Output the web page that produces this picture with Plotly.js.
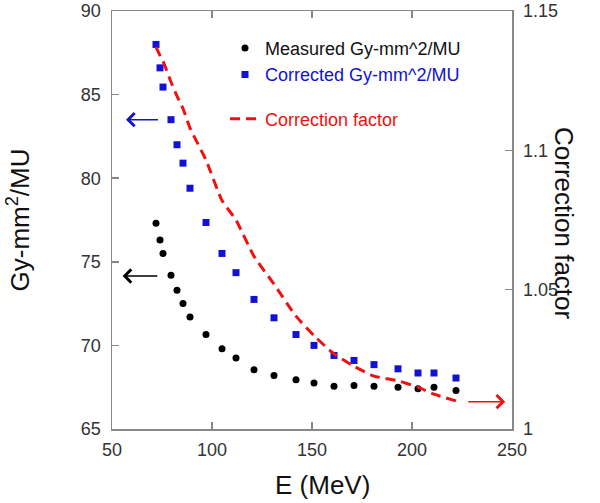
<!DOCTYPE html>
<html>
<head>
<meta charset="utf-8">
<script src="https://cdn.plot.ly/plotly-3.0.1.min.js"></script>
<style>
  html, body { margin: 0; padding: 0; background: #fff; }
  #chart { width: 600px; height: 503px; }
</style>
</head>
<body>
<div id="chart"></div>
<script>
/* ===== Data ===== */
const energy = [72, 74, 75.5, 79.5, 82.5, 85.5, 89, 97, 105, 112, 121, 131, 142, 151, 161, 171, 181, 193, 203, 211, 222];
const measured = [77.3, 76.3, 75.5, 74.2, 73.3, 72.5, 71.7, 70.65, 69.8, 69.25, 68.55, 68.2, 67.95, 67.75, 67.55, 67.6, 67.55, 67.5, 67.4, 67.5, 67.3];
const corrected = [88.0, 86.6, 85.45, 83.5, 82.0, 80.9, 79.4, 77.35, 75.5, 74.35, 72.75, 71.65, 70.65, 70.0, 69.4, 69.1, 68.85, 68.6, 68.35, 68.35, 68.05];
const factor = [1.137, 1.134, 1.132, 1.1245, 1.1195, 1.115, 1.108, 1.0965, 1.082, 1.075, 1.062, 1.052, 1.0405, 1.0335, 1.027, 1.0225, 1.019, 1.0173, 1.015, 1.0125, 1.0101];

const xTicks = [50, 100, 150, 200, 250];
const yTicks = [65, 70, 75, 80, 85, 90];
const y2Ticks = [1, 1.05, 1.1, 1.15];

const FONT = "Arial, 'Liberation Sans', sans-serif";
const BLUE = "#1212d4";
const RED = "#f01010";
const TITLE_FONT = { family: FONT, size: 26, color: "#111" };

/* ===== Traces ===== */
const traces = [
  {
    type: "scatter", mode: "markers",
    x: energy, y: measured,
    name: "Measured Gy-mm^2/MU",
    legendgroup: "a",
    marker: { symbol: "circle", size: 7, color: "#000" }
  },
  {
    type: "scatter", mode: "markers",
    x: energy, y: corrected,
    name: "<span style='color:" + BLUE + "'>Corrected Gy-mm^2/MU</span>",
    legendgroup: "a",
    marker: { symbol: "square", size: 7, color: BLUE }
  },
  {
    type: "scatter", mode: "lines",
    x: energy, y: factor, yaxis: "y2",
    name: "<span style='color:" + RED + "'>Correction factor</span>",
    legendgroup: "b",
    line: { color: RED, width: 3, dash: "10px,6px", shape: "spline", smoothing: 0.6 }
  }
];

/* ===== Axes ===== */
const axisBase = {
  showgrid: false, zeroline: false,
  showline: true, linecolor: "#888", linewidth: 1.5,
  ticks: "inside", ticklen: 7, tickcolor: "#888", tickwidth: 1.5,
  tickfont: { family: FONT, size: 18, color: "#333" }
};

const layout = {
  width: 600, height: 503,
  margin: { l: 112, r: 88, t: 11, b: 74 },
  paper_bgcolor: "#fff", plot_bgcolor: "#fff",
  font: { family: FONT },
  showlegend: true,
  legend: {
    x: 0.2825, xanchor: "left", y: 0.955, yanchor: "top",
    bgcolor: "rgba(0,0,0,0)",
    font: { family: FONT, size: 18, color: "#111" },
    traceorder: "grouped", tracegroupgap: 18
  },
  xaxis: Object.assign({}, axisBase, {
    range: [50, 250], tickvals: xTicks, mirror: "ticks",
    ticklabelstandoff: 4
  }),
  yaxis: Object.assign({}, axisBase, {
    range: [65, 90], tickvals: yTicks,
    ticklabelstandoff: 6,
    title: { text: "Gy-mm<sup>2</sup>/MU", font: TITLE_FONT, standoff: 44 }
  }),
  yaxis2: Object.assign({}, axisBase, {
    range: [1, 1.15], tickvals: y2Ticks, overlaying: "y", side: "right",
    ticklabelstandoff: 6
  }),
  annotations: [
    {
      xref: "paper", yref: "paper", x: 0.5, y: 0, xshift: 10, yshift: -56,
      yanchor: "middle", text: "E (MeV)", showarrow: false, font: TITLE_FONT
    },
    {
      xref: "paper", yref: "paper", x: 1, y: 0.5, xshift: 69, yshift: -3,
      text: "Correction factor", textangle: 90, showarrow: false, font: TITLE_FONT
    },
    // arrows pointing to the axis each series belongs to
    {
      xref: "x", yref: "y", axref: "x", ayref: "y",
      x: 57, y: 83.5, ax: 73.7, ay: 83.5, text: "",
      showarrow: true, arrowhead: 4, arrowsize: 1.6, arrowwidth: 1.6, arrowcolor: BLUE
    },
    {
      xref: "x", yref: "y", axref: "x", ayref: "y",
      x: 55.3, y: 74.15, ax: 73.4, ay: 74.15, text: "",
      showarrow: true, arrowhead: 4, arrowsize: 1.6, arrowwidth: 1.6, arrowcolor: "#000"
    },
    {
      xref: "x", yref: "y2", axref: "x", ayref: "y2",
      x: 246.6, y: 1.0098, ax: 227.4, ay: 1.0098, text: "",
      showarrow: true, arrowhead: 4, arrowsize: 1.6, arrowwidth: 1.6, arrowcolor: RED
    }
  ]
};

Plotly.newPlot("chart", traces, layout, { displayModeBar: false, staticPlot: true });
</script>
</body>
</html>
